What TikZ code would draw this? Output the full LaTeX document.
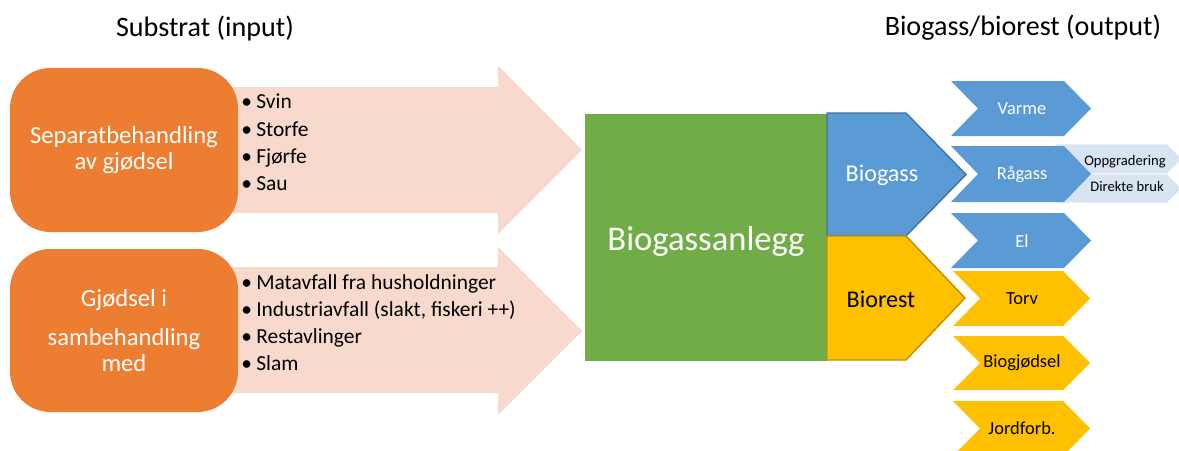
\documentclass[tikz,border=0pt]{standalone}
\usepackage{fontspec}
\setmainfont{Carlito}
\usetikzlibrary{calc}

\definecolor{substorange}{HTML}{ED7D31}
\definecolor{substpink}{HTML}{F8D9CE}
\definecolor{plantgreen}{HTML}{70AD47}
\definecolor{gasblue}{HTML}{5B9BD5}
\definecolor{gasedge}{HTML}{41719C}
\definecolor{restyellow}{HTML}{FFC000}
\definecolor{restedge}{HTML}{BF9000}
\definecolor{paleblue}{HTML}{D9E4F2}

\begin{document}
\begin{tikzpicture}[x=0.02cm,y=-0.02cm,
  title/.style={font=\fontsize{16}{19}\selectfont},
  boxtext/.style={text=white,align=center,font=\fontsize{14}{15}\selectfont},
  list/.style={anchor=west,align=left,inner sep=0pt,font=\fontsize{12.2}{15.5}\selectfont},
  outtext/.style={font=\fontsize{10.5}{12}\selectfont},
  smalltext/.style={font=\fontsize{8.3}{9}\selectfont}]
\clip (0,0) rectangle (1179,450);
\fill[white] (0,0) rectangle (1179,450);

% titles
\node[title] (tin) at (205,28) {Substrat (input)};
\node[title] (tout) at (1023,28) {Biogass/biorest (output)};

% input arrows
\fill[substpink] (230,87) -- (498,87) -- (498,66) -- (582,150) -- (498,234) -- (498,213) -- (230,213) -- cycle;
\fill[substpink] (230,267) -- (498,267) -- (498,247) -- (582,331) -- (498,415) -- (498,393) -- (230,393) -- cycle;

% substrate boxes
\fill[substorange,rounded corners=23] (10,68) rectangle (238,232);
\fill[substorange,rounded corners=23] (10,249) rectangle (238,412);
\node[boxtext] (sep) at (124,150) {Separatbehandling\\av gjødsel};
\node[boxtext] (sam) at (124,331) {Gjødsel i\\[7pt]sambehandling\\med};

\node[list] (lista) at (241,142.5) {•\hspace{0.2em}Svin\\•\hspace{0.2em}Storfe\\•\hspace{0.2em}Fjørfe\\•\hspace{0.2em}Sau};
\node[list] (listb) at (241,322.5) {•\hspace{0.2em}Matavfall fra husholdninger\\•\hspace{0.2em}Industriavfall (slakt, fiskeri ++)\\•\hspace{0.2em}Restavlinger\\•\hspace{0.2em}Slam};

% plant
\fill[plantgreen] (585,114) rectangle (827,361);
\node[text=white,font=\fontsize{19.7}{22}\selectfont] (plant) at (706,241) {Biogassanlegg};

\filldraw[fill=gasblue,draw=gasedge,line width=0.8pt] (827,113) -- (906,113) -- (966,174.5) -- (906,236) -- (827,236) -- cycle;
\filldraw[fill=restyellow,draw=restedge,line width=0.8pt] (827,236) -- (906,236) -- (965,298) -- (906,360) -- (827,360) -- cycle;
\node[text=white,font=\fontsize{13.7}{15}\selectfont] (gas) at (882,175) {Biogass};
\node[font=\fontsize{13.7}{15}\selectfont] (rest) at (881,299) {Biorest};

% raw gas use
\filldraw[fill=paleblue,draw=white] (1055,144) -- (1167,144) -- (1182,159) -- (1167,174) -- (1055,174) -- cycle;
\filldraw[fill=paleblue,draw=white] (1055,174) -- (1167,174) -- (1182,188.5) -- (1167,203) -- (1055,203) -- cycle;
\node[smalltext] (upg) at (1125,162) {Oppgradering};
\node[smalltext] (direct) at (1127,186) {Direkte bruk};

% outputs
\fill[gasblue] (951,81) -- (1064,81) -- (1091,108.5) -- (1064,136) -- (951,136) -- (978,108.5) -- cycle;
\fill[gasblue] (951,146) -- (1064,146) -- (1091,174) -- (1064,202) -- (951,202) -- (978,174) -- cycle;
\fill[gasblue] (951,213) -- (1064,213) -- (1091,240.5) -- (1064,268) -- (951,268) -- (978,240.5) -- cycle;
\fill[restyellow] (953,271) -- (1063,271) -- (1090,298.5) -- (1063,326) -- (953,326) -- (980,298.5) -- cycle;
\fill[restyellow] (953,336) -- (1063,336) -- (1090,363) -- (1063,390) -- (953,390) -- (980,363) -- cycle;
\fill[restyellow] (953,401) -- (1063,401) -- (1090,428.5) -- (1063,456) -- (953,456) -- (980,428.5) -- cycle;
\node[outtext,text=white] (heat) at (1022,108.5) {Varme};
\node[outtext,text=white] (raw) at (1022,175) {Rågass};
\node[outtext,text=white] (el) at (1022,241) {El};
\node[outtext] (peat) at (1022,298.5) {Torv};
\node[outtext] (fert) at (1022,363) {Biogjødsel};
\node[outtext] (soil) at (1022,428.5) {Jordforb.};
\end{tikzpicture}
\end{document}
